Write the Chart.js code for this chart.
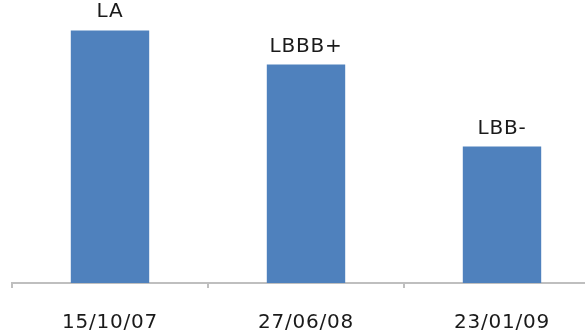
<!DOCTYPE html>
<html>
<head>
<meta charset="utf-8">
<script src="https://cdn.jsdelivr.net/npm/chart.js@4/dist/chart.umd.min.js"></script>
<style>
  html, body { margin: 0; padding: 0; background: #fff; overflow: hidden; }
  #wrap { width: 612px; height: 331px; }
</style>
</head>
<body>
<div id="wrap"><canvas id="c" width="612" height="331"></canvas></div>
<script>
// Rating dates, rating levels shown above each bar, and bar heights
const dates = ['15/10/07', '27/06/08', '23/01/09'];
const ratings = ['LA', 'LBBB+', 'LBB-'];
const levels = [18.5, 16, 10];

const FONT = 'DejaVu Sans, Verdana, sans-serif';

// Slightly wider letter spacing for all canvas text
const spacing = {
  id: 'spacing',
  beforeDraw(chart) { chart.ctx.letterSpacing = '0.8px'; }
};

// Rating label written above each bar
const ratingLabels = {
  id: 'ratingLabels',
  afterDatasetsDraw(chart) {
    const ctx = chart.ctx;
    const meta = chart.getDatasetMeta(0);
    ctx.save();
    ctx.letterSpacing = '0.8px';
    ctx.font = '20px ' + FONT;
    ctx.fillStyle = '#1a1a1a';
    ctx.textAlign = 'center';
    ctx.textBaseline = 'alphabetic';
    meta.data.forEach((bar, i) => {
      ctx.fillText(ratings[i], bar.x, bar.y - 13);
    });
    ctx.restore();
  }
};

new Chart(document.getElementById('c'), {
  type: 'bar',
  data: {
    labels: dates,
    datasets: [{
      data: levels,
      backgroundColor: '#4f81bd',
      borderWidth: 0,
      barPercentage: 0.4,
      categoryPercentage: 1.0
    }]
  },
  options: {
    responsive: false,
    animation: false,
    layout: { padding: { left: 12, right: 12, top: 10, bottom: 0 } },
    plugins: {
      legend: { display: false },
      tooltip: { enabled: false }
    },
    scales: {
      x: {
        offset: true,
        // fixed band below the axis line for the date labels
        afterFit(scale) { scale.height = 48; },
        border: { display: true, color: '#bfbfbf', width: 2 },
        grid: {
          display: true,
          offset: true,
          drawOnChartArea: false,
          drawTicks: true,
          tickLength: 5,
          color: '#bfbfbf',
          lineWidth: 2
        },
        ticks: {
          color: '#1a1a1a',
          padding: 23,
          font: { family: FONT, size: 20 },
          maxRotation: 0
        }
      },
      y: {
        display: false,
        min: 0,
        max: 20
      }
    }
  },
  plugins: [spacing, ratingLabels]
});
</script>
</body>
</html>
